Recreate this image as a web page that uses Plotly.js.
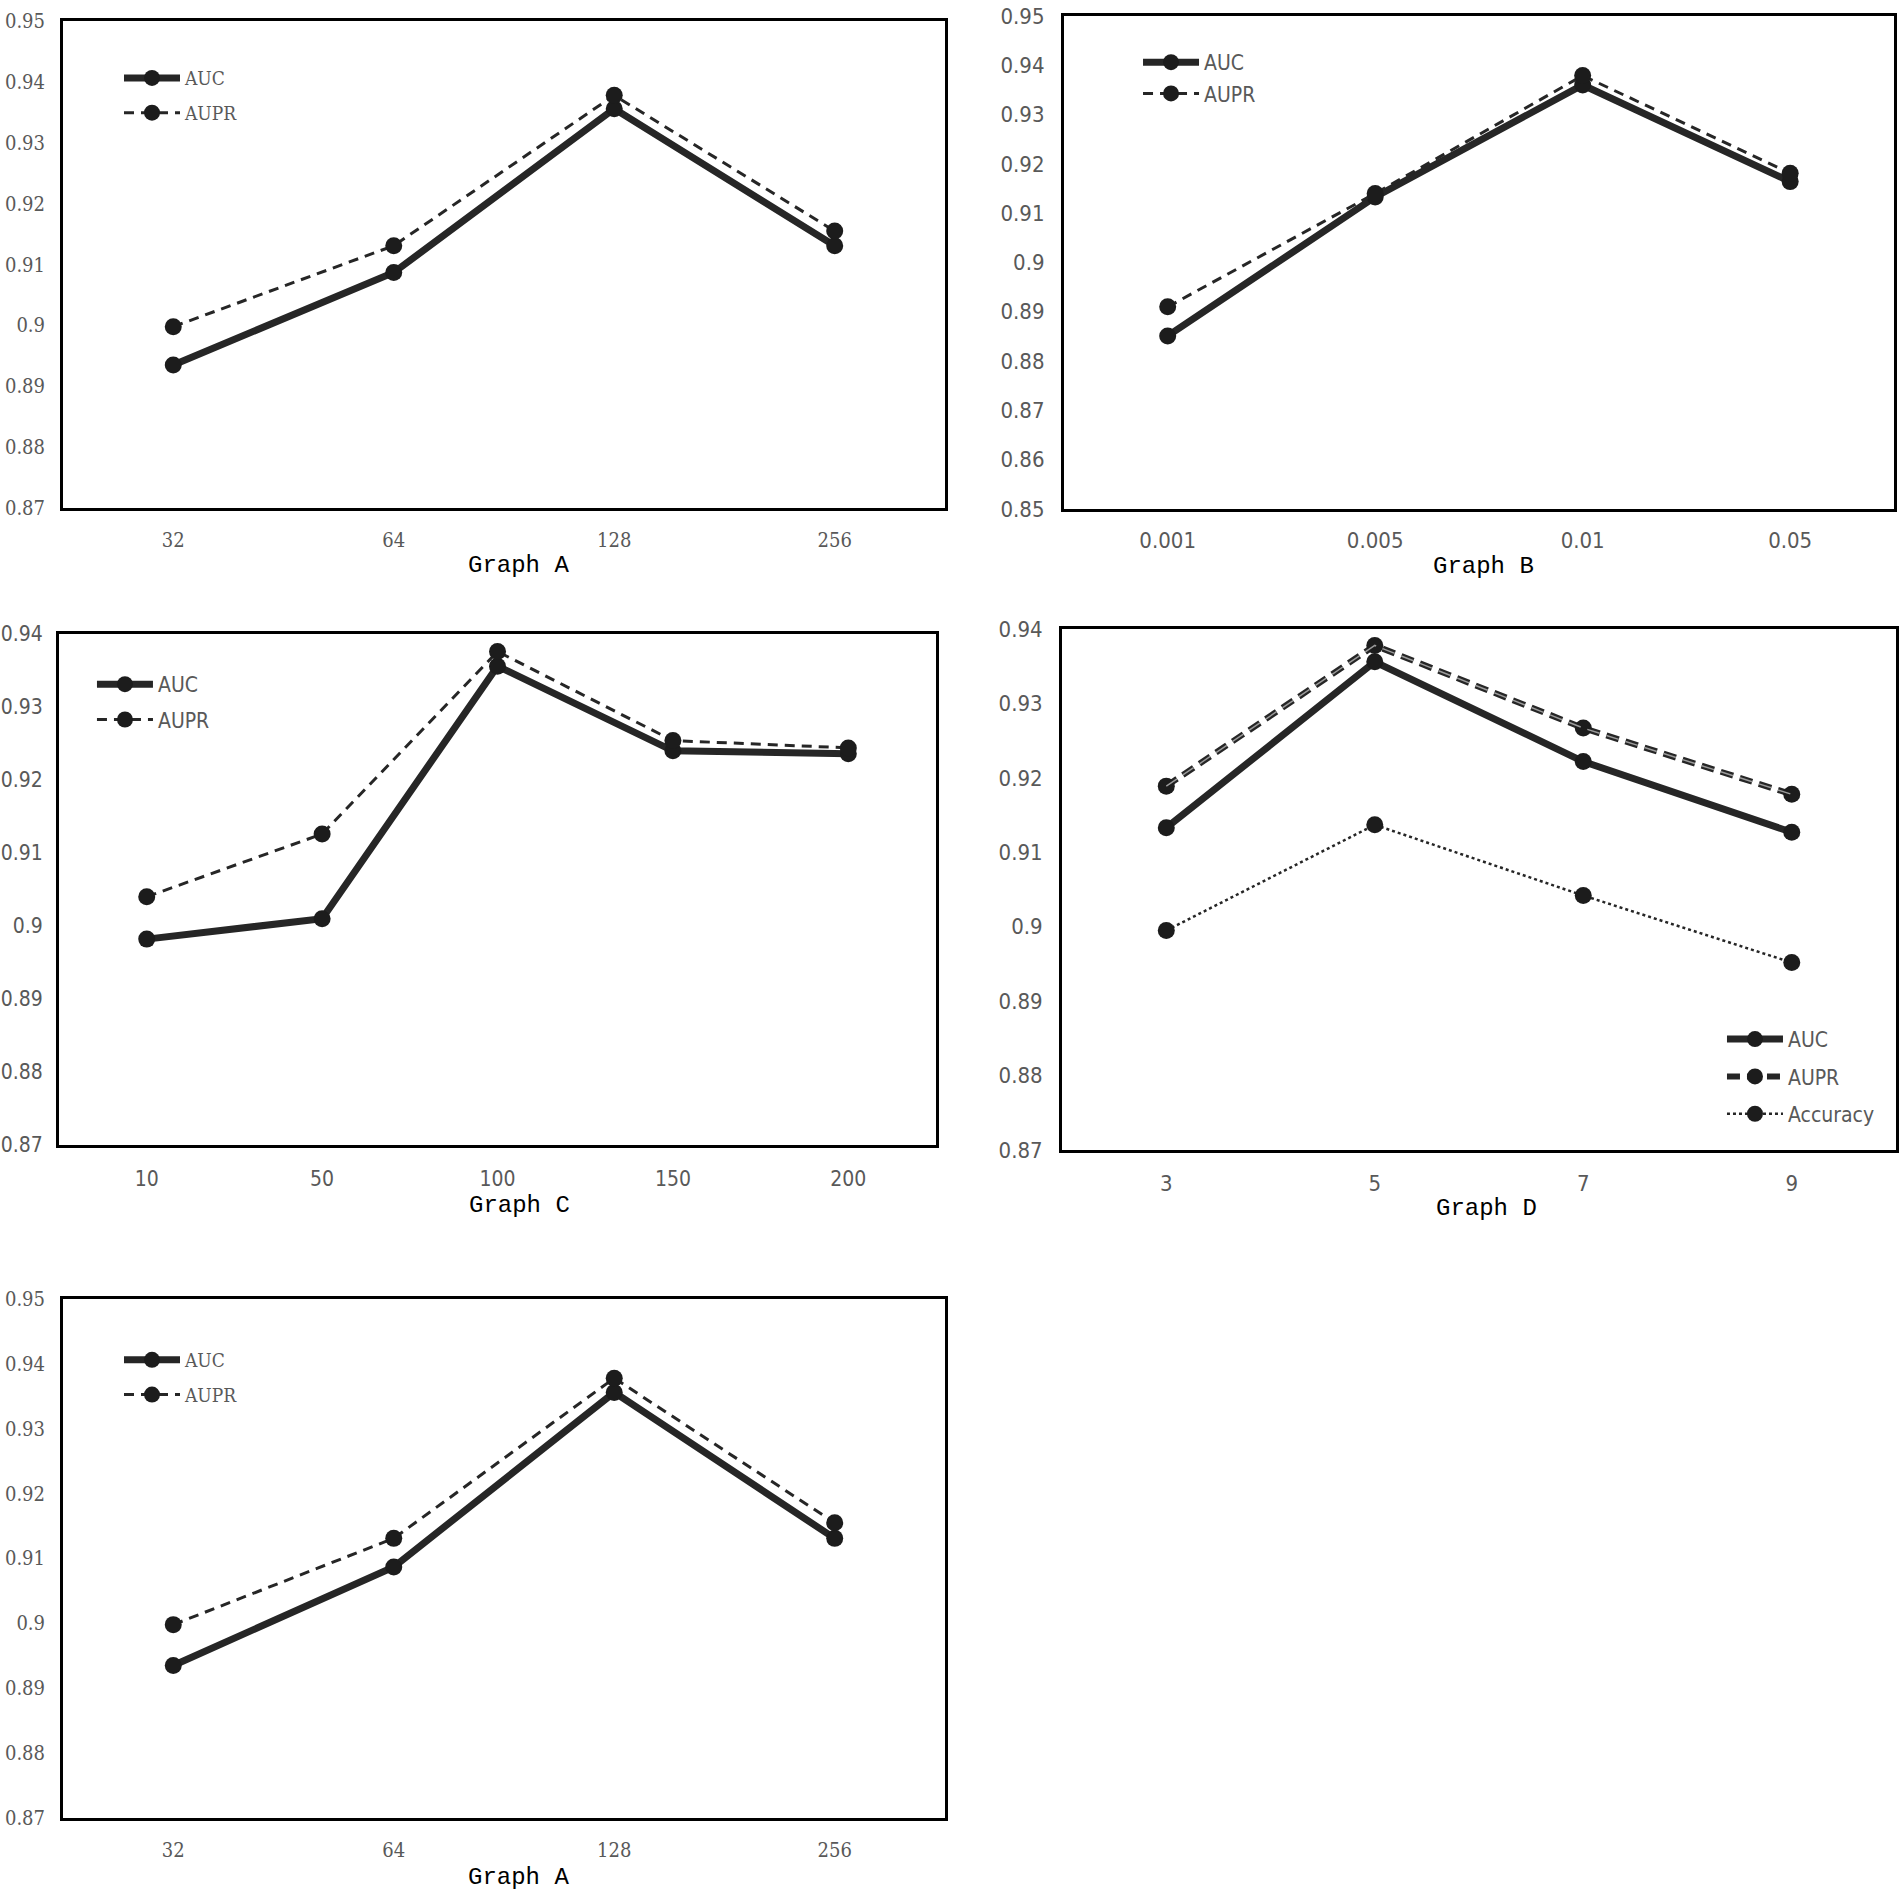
<!DOCTYPE html>
<html>
<head>
<meta charset="utf-8">
<script src="https://cdn.plot.ly/plotly-3.0.1.min.js"></script>
<style>
  html, body { margin: 0; padding: 0; background: #fff; }
  #chart { width: 1904px; height: 1900px; }
</style>
</head>
<body>
<div id="chart"></div>
<script>
// ---- data ----
const catsA = ["32", "64", "128", "256"];
const aucA  = [0.8935, 0.9087, 0.9356, 0.9131];
const auprA = [0.8998, 0.9131, 0.9378, 0.9155];

const catsB = ["0.001", "0.005", "0.01", "0.05"];
const aucB  = [0.8851, 0.9133, 0.9360, 0.9164];
const auprB = [0.8910, 0.9140, 0.9379, 0.9181];

const catsC = ["10", "50", "100", "150", "200"];
const aucC  = [0.8982, 0.9010, 0.9356, 0.9240, 0.9236];
const auprC = [0.9040, 0.9126, 0.9376, 0.9254, 0.9244];

const catsD = ["3", "5", "7", "9"];
const aucD  = [0.9133, 0.9356, 0.9222, 0.9127];
const auprD = [0.9189, 0.9378, 0.9267, 0.9178];
const accD  = [0.8995, 0.9137, 0.9042, 0.8952];

const ticksA = [0.87, 0.88, 0.89, 0.90, 0.91, 0.92, 0.93, 0.94, 0.95];
const tickTextA = ["0.87", "0.88", "0.89", "0.9", "0.91", "0.92", "0.93", "0.94", "0.95"];
const ticksB = [0.85, 0.86, 0.87, 0.88, 0.89, 0.90, 0.91, 0.92, 0.93, 0.94, 0.95];
const tickTextB = ["0.85", "0.86", "0.87", "0.88", "0.89", "0.9", "0.91", "0.92", "0.93", "0.94", "0.95"];
const ticksC = [0.87, 0.88, 0.89, 0.90, 0.91, 0.92, 0.93, 0.94];
const tickTextC = ["0.87", "0.88", "0.89", "0.9", "0.91", "0.92", "0.93", "0.94"];

// ---- styling ----
const INK = "#262626";
const TICK_GREY = "#595959";
const SERIF = "'DejaVu Serif Condensed', 'Liberation Serif', serif";
const SANS = "'Liberation Sans Narrow', 'DejaVu Sans Condensed', 'Roboto', sans-serif";
const TITLE_FONT = { family: "'Liberation Mono', 'DejaVu Sans Mono', monospace", size: 24, color: "#000" };

// every trace gets its own legend group so tracegroupgap can space the rows
function lineTrace(x, y, name, axN, legendId, style) {
  const sfx = axN === 1 ? "" : axN;
  return {
    type: "scatter",
    mode: "lines+markers",
    x: x, y: y, name: name,
    xaxis: "x" + sfx, yaxis: "y" + sfx,
    legend: legendId,
    legendgroup: legendId + "-" + name,
    line: Object.assign({ color: INK }, style),
    marker: { color: "#1c1c1c", size: 17, symbol: "circle" },
    hoverinfo: "x+y+name"
  };
}

function xAxis(dom, cats, font, anchor, standoff) {
  return {
    domain: dom, anchor: anchor, type: "category",
    range: [-0.5, cats.length - 0.5],
    showline: true, mirror: true, linecolor: "#000", linewidth: 3,
    showgrid: false, zeroline: false, ticks: "",
    ticklabelstandoff: standoff,
    tickfont: font, fixedrange: true
  };
}

function yAxis(dom, range, vals, text, font, anchor, standoff) {
  return {
    domain: dom, anchor: anchor, range: range,
    tickmode: "array", tickvals: vals, ticktext: text,
    showline: true, mirror: true, linecolor: "#000", linewidth: 3,
    showgrid: false, zeroline: false, ticks: "",
    ticklabelstandoff: standoff,
    tickfont: font, fixedrange: true
  };
}

function legendAt(x, y, font, gap) {
  return {
    x: x, y: y, xanchor: "left", yanchor: "top",
    xref: "paper", yref: "paper",
    bgcolor: "rgba(0,0,0,0)", borderwidth: 0,
    font: font, itemwidth: 56, tracegroupgap: gap,
    itemclick: false, itemdoubleclick: false
  };
}

const solid = { width: 7, dash: "solid" };
const dashed = { width: 3, dash: "10px,7px" };

const serifTick = { family: SERIF, size: 20, color: TICK_GREY };
const sansTick = { family: SANS, size: 22, color: TICK_GREY };
const sansTickC = { family: SANS, size: 21, color: TICK_GREY };

const traces = [
  lineTrace(catsA, aucA, "AUC", 1, "legend", solid),
  lineTrace(catsA, auprA, "AUPR", 1, "legend", dashed),

  lineTrace(catsB, aucB, "AUC", 2, "legend2", solid),
  lineTrace(catsB, auprB, "AUPR", 2, "legend2", dashed),

  lineTrace(catsC, aucC, "AUC", 3, "legend3", solid),
  lineTrace(catsC, auprC, "AUPR", 3, "legend3", dashed),

  lineTrace(catsD, aucD, "AUC", 4, "legend4", solid),
  lineTrace(catsD, auprD, "AUPR", 4, "legend4", { width: 6, dash: "13px,7px" }),
  Object.assign(lineTrace(catsD, auprD, "AUPR", 4, "legend4", { width: 1.5, dash: "13px,7px", color: "#9a9a9a" }),
    { mode: "lines", showlegend: false, hoverinfo: "skip" }),
  lineTrace(catsD, accD, "Accuracy", 4, "legend4", { width: 2.5, dash: "dot" }),

  lineTrace(catsA, aucA, "AUC", 5, "legend5", solid),
  lineTrace(catsA, auprA, "AUPR", 5, "legend5", dashed)
];

const domX = { A: [0.0331, 0.4963], B: [0.5588, 0.9947], C: [0.0310, 0.4916], D: [0.5578, 0.9958] };
const domY = { A: [0.7326, 0.9889], B: [0.7321, 0.9916], C: [0.3974, 0.6663], D: [0.3947, 0.6689], A2: [0.0432, 0.3163] };

function graphTitle(text, x, y) {
  return { text: text, x: x, y: y, xref: "paper", yref: "paper",
           xanchor: "center", yanchor: "middle", showarrow: false, font: TITLE_FONT };
}

const layout = {
  width: 1904, height: 1900,
  margin: { l: 0, r: 0, t: 0, b: 0 },
  paper_bgcolor: "#fff", plot_bgcolor: "#fff",
  showlegend: true,
  hovermode: "closest",

  xaxis:  xAxis(domX.A, catsA, serifTick, "y", 12),
  yaxis:  yAxis(domY.A, [0.87, 0.95], ticksA, tickTextA, serifTick, "x", 11),
  xaxis2: xAxis(domX.B, catsB, sansTick, "y2", 10),
  yaxis2: yAxis(domY.B, [0.85, 0.95], ticksB, tickTextB, sansTick, "x2", 12),
  xaxis3: xAxis(domX.C, catsC, sansTickC, "y3", 13),
  yaxis3: yAxis(domY.C, [0.87, 0.94], ticksC, tickTextC, sansTickC, "x3", 9),
  xaxis4: xAxis(domX.D, catsD, sansTick, "y4", 12),
  yaxis4: yAxis(domY.D, [0.87, 0.94], ticksC, tickTextC, sansTick, "x4", 12),
  xaxis5: xAxis(domX.A, catsA, serifTick, "y5", 12),
  yaxis5: yAxis(domY.A2, [0.87, 0.95], ticksA, tickTextA, serifTick, "x5", 11),

  legend:  legendAt(0.0625, 0.9689, { family: SERIF, size: 19, color: TICK_GREY }, 7),
  legend2: legendAt(0.5977, 0.9779, { family: SANS, size: 21, color: TICK_GREY }, 1),
  legend3: legendAt(0.0483, 0.6505, { family: SANS, size: 21, color: TICK_GREY }, 5),
  legend4: legendAt(0.9044, 0.4637, { family: SANS, size: 21, color: TICK_GREY }, 7),
  legend5: legendAt(0.0625, 0.2942, { family: SERIF, size: 19, color: TICK_GREY }, 7),

  annotations: [
    graphTitle("Graph A", 0.2721, 0.7026),
    graphTitle("Graph B", 0.7794, 0.7016),
    graphTitle("Graph C", 0.2731, 0.3653),
    graphTitle("Graph D", 0.7805, 0.3642),
    graphTitle("Graph A", 0.2721, 0.0116)
  ]
};

Plotly.newPlot("chart", traces, layout, { displayModeBar: false });
</script>
</body>
</html>
